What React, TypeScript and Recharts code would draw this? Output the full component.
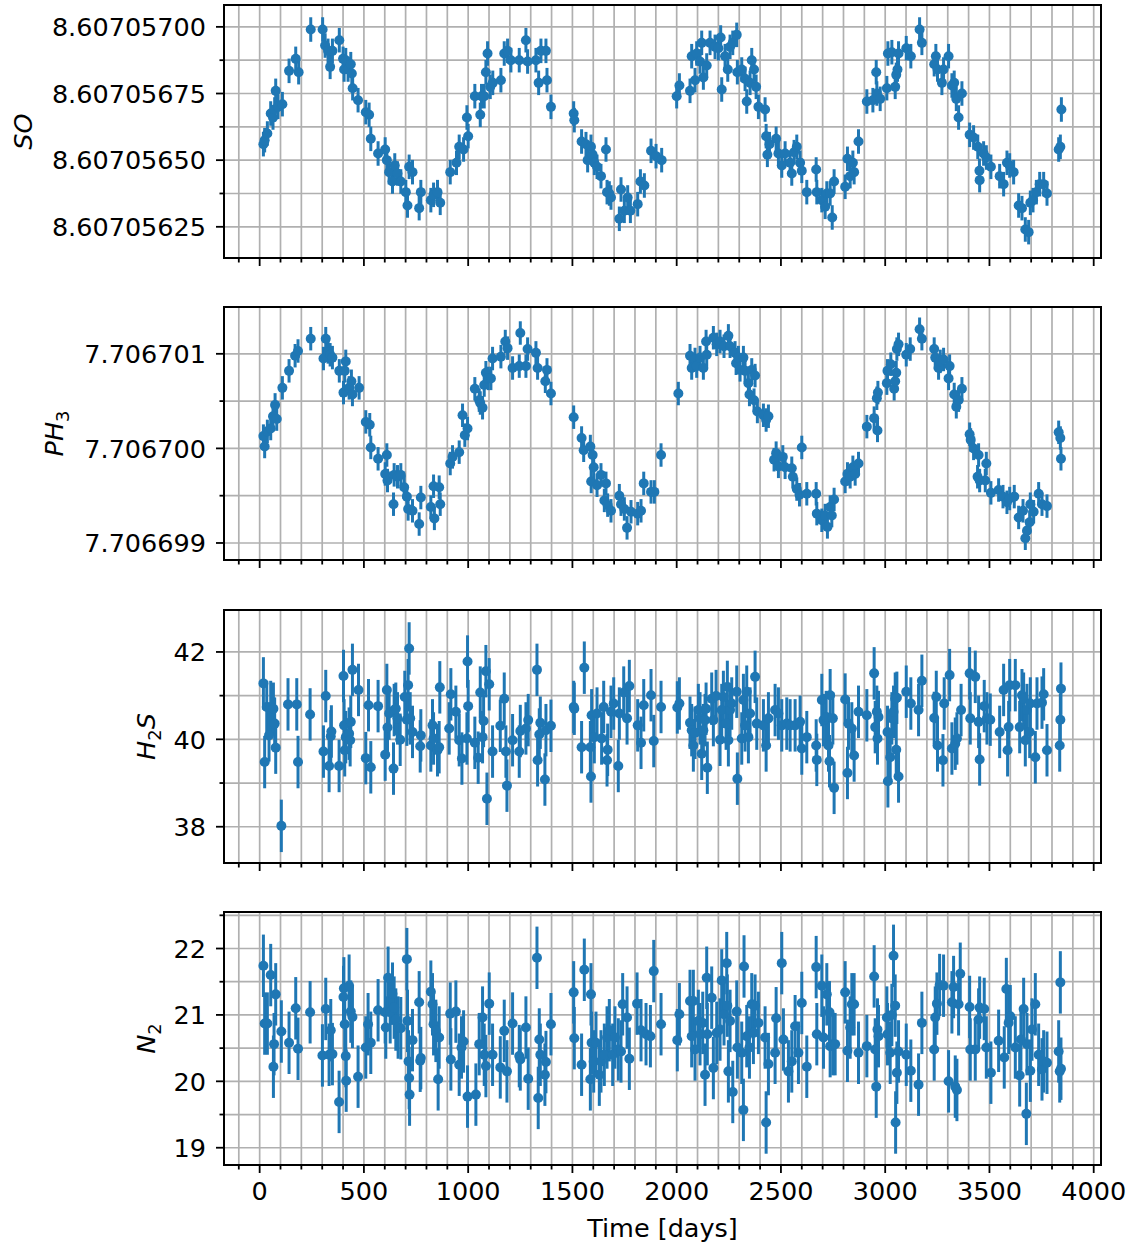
import React from "react";
import { ScatterChart, Scatter, XAxis, YAxis, CartesianGrid, ErrorBar, ReferenceArea } from "recharts";

const BLUE = "#1f77b4";
const FONT = "'DejaVu Sans', sans-serif";
const FS = 25.5;

// observation times [days] and values, read per panel
// SO values are in units of 1e-8 above 8.60705
const SO_T = [18,24,37,53,64,72,77,88,109,141,173,187,245,302,314,328,338,349,382,400,405,413,424,437,442,446,472,509,525,533,568,602,610,621,637,648,661,677,701,709,717,733,765,773,821,834,853,866,914,944,957,978,994,1000,1032,1058,1064,1077,1085,1093,1106,1118,1157,1173,1189,1205,1245,1277,1285,1325,1338,1349,1373,1378,1397,1506,1509,1544,1565,1573,1589,1597,1605,1618,1637,1661,1666,1677,1685,1725,1733,1749,1765,1778,1813,1826,1845,1877,1901,1928,
  2000,2013,2064,2072,2088,2096,2112,2120,2128,2144,2160,2184,2200,2211,2216,2232,2245,2256,2269,2288,2291,2312,2328,2336,2352,2360,2371,2381,2392,2424,2429,2435,2445,2477,2488,2504,2520,2544,2552,2563,2576,2592,2600,2624,2669,2672,2696,2712,2720,2736,2746,2755,2808,2819,2832,2845,2851,2872,2912,2941,2957,2960,2976,3008,3013,3032,3048,3053,3059,3064,3101,3123,3165,3176,3235,3243,3251,3272,3280,3304,3320,3331,3341,3352,3368,3405,3424,3444,3452,3453,3472,3485,3507,3549,3568,3584,3597,3616,3640,3656,3672,3688,3696,3709,3725,3741,3760,3776,3832,3840,3845];
const SO_V = [656,657.5,660,667.5,666,669,676,670,671,683.5,688,683,699,699,693,691,685,691,695,688,684,687.5,684,686,682.5,677,672.5,668,667,658,652.5,654,650,645.5,642,648,645,642,638,633,647.5,645.5,632,638,635,637,638,634,645.5,649,655,654,666,659,674,667,674,674,683,690,677.5,679,680,690,691,687.5,687.5,695,687,687.5,679,691,691,680,670,667.5,665,657,656,650,655,652,649,647.5,644,654,638,637.5,636,628,639,631,636,631,633.5,642,640.5,653.5,651.5,650,
  674,678,676,689,680,690,687,694,681,685.5,694,692.5,692,696,676.5,689,684,692.5,694,697,683,684,680.5,672,679,687.5,684,677.5,670,669,659,652,656,658,652.5,648,652.5,649,645,653,655,649,646,638,646.5,638,635,632.5,637.5,637.5,628.5,642,640,650.5,644,649,645.5,657,672,672.5,683,675,673,677,690,690.5,677.5,682,684,690,692,689,699,694,686,689,684,679,684,689,678,679,673,666,675,659.5,658.5,655,646,642.5,652.5,651,647.5,644,641,649,648,645.5,633,632,624,623,634,635,638,641,641,637.5,654,655,669];

// PH3 values are in units of 1e-8 relative to 7.7067
const PH3_T = [18,24,37,53,64,74,82,109,141,170,184,245,306,317,328,338,349,382,402,413,408,429,440,445,477,509,528,533,568,610,602,613,642,645,661,677,693,706,712,733,765,773,821,834,838,861,866,914,925,957,984,997,973,1032,1053,1058,1069,1077,1085,1096,1109,1117,1157,1178,1189,1213,1245,1250,1277,1285,1325,1333,1370,1378,1397,1506,1544,1554,1586,1597,1602,1590,1618,1637,1661,1653,1669,1685,1725,1733,1762,1749,1781,1813,1829,1842,1877,1893,1925,
  2008,2064,2072,2088,2096,2112,2128,2141,2144,2176,2192,2208,2227,2248,2256,2280,2285,2296,2304,2320,2328,2344,2349,2360,2371,2376,2387,2416,2429,2440,2467,2477,2488,2509,2520,2552,2557,2576,2589,2600,2624,2669,2672,2696,2712,2723,2736,2744,2755,2808,2819,2832,2845,2856,2872,2912,2947,2960,2963,2965,3008,3011,3027,3043,3048,3053,3056,3064,3101,3120,3165,3176,3235,3240,3256,3264,3280,3304,3309,3331,3341,3352,3368,3405,3410,3424,3448,3443,3453,3480,3485,3507,3544,3565,3584,3597,3619,3640,3661,3672,3680,3693,3696,3712,3736,3752,3776,3832,3840,3843];
const PH3_V = [13,2,18,21,34,46,31,64,82,98,103,116,95,116,102,99,96,82,59,92,82,64,71,57,64,28,25,1,-11,-7,-27,-34,-59,-28,-30,-28,-41,-51,-64,-66,-80,-52,-62,-40,-74,-41,-59,-16,-9,-4,14,21,35,63,51,48,43,67,80,74,74,95,97,113,106,85,87,122,87,105,101,85,71,83,58,33,11,-2,2,-7,-20,-35,-39,-28,-37,-55,-60,-66,-50,-59,-84,-64,-67,-69,-66,-37,-46,-46,-7,
  58,98,85,94,87,96,85,113,99,117,110,113,108,119,108,101,90,96,83,96,82,69,57,83,51,77,39,35,30,34,-12,-5,-19,-9,-20,-21,-30,-43,-49,1,-48,-48,-69,-76,-71,-83,-62,-71,-54,-35,-27,-30,-20,-27,-16,23,32,53,19,59,69,82,89,63,71,80,105,110,99,105,126,116,105,96,85,92,94,74,87,57,44,51,63,15,9,0,-7,-30,-34,-34,-16,-47,-44,-51,-57,-53,-51,-73,-66,-95,-87,-78,-59,-67,-48,-59,-61,17,11,-11];

const H2S_T = [18,24,34,45,53,66,72,77,104,136,178,184,242,306,317,333,341,344,381,402,405,408,413,429,434,437,445,474,509,522,533,568,602,610,613,621,642,645,653,661,674,696,706,712,717,722,733,770,773,821,829,834,853,861,864,909,917,941,957,970,997,1000,994,1032,1048,1058,1069,1074,1085,1090,1101,1117,1154,1173,1181,1186,1213,1245,1250,1277,1288,1330,1333,1341,1346,1368,1373,1397,1506,1509,1544,1557,1586,1589,1592,1605,1618,1640,1650,1666,1669,1685,1698,1720,1725,1746,1762,1773,1813,1829,1842,1877,1890,1925,
  2003,2013,2064,2072,2080,2088,2104,2112,2120,2128,2136,2141,2147,2168,2176,2189,2208,2216,2224,2237,2243,2248,2256,2264,2288,2291,2312,2320,2328,2336,2344,2352,2376,2384,2416,2429,2440,2472,2488,2504,2528,2544,2568,2592,2600,2624,2669,2672,2696,2704,2717,2728,2733,2736,2749,2755,2808,2819,2824,2840,2851,2872,2912,2947,2952,2960,2963,2968,3011,3013,3024,3032,3040,3048,3053,3056,3064,3101,3123,3160,3176,3235,3245,3251,3277,3283,3309,3320,3336,3344,3364,3405,3408,3432,3448,3453,3475,3488,3504,3549,3568,3587,3592,3597,3624,3645,3656,3664,3672,3680,3693,3696,3720,3728,3752,3760,3776,3837,3840,3843];
const H2S_V = [41.28,39.48,40.74,40.09,40.74,40.70,40.36,39.81,38.02,40.80,40.80,39.48,40.57,39.72,40.99,39.39,40.07,40.18,39.39,41.45,40.32,39.75,40.05,40.13,39.98,40.40,41.59,41.13,39.57,40.78,39.36,40.76,39.65,41.13,40.27,40.59,39.33,40.67,40.70,40.48,39.99,40.97,40.45,41.24,42.08,40.48,40.17,39.84,40.09,39.86,40.32,40.02,39.75,39.82,41.19,40.25,41.03,40.63,39.98,39.56,41.78,40.76,40.02,39.92,39.58,41.07,40.05,40.42,41.56,38.64,41.26,39.72,40.31,40.93,39.72,38.94,39.98,39.72,40.19,40.25,40.44,41.59,39.52,40.11,40.38,39.08,40.21,40.31,40.74,40.70,39.82,41.64,39.82,39.15,40.55,40.05,40.59,40.02,40.74,39.52,39.76,40.63,40.82,39.39,40.59,41.07,40.48,41.22,40.32,39.92,40.78,41.01,39.96,40.74,
  40.73,40.82,40.38,40.21,39.86,40.15,40.67,40.48,39.67,40.21,40.44,40.70,39.35,40.93,40.44,40.99,39.99,40.67,40.97,40.36,41.20,39.98,40.67,40.82,41.09,39.10,40.02,40.90,40.32,41.09,40.05,40.59,41.43,40.36,40.32,39.86,40.48,40.67,40.59,40.32,40.36,40.32,40.32,40.40,39.79,40.05,39.86,39.53,40.90,40.44,40.51,39.86,39.50,41.01,40.48,38.89,40.91,39.23,40.36,40.25,39.63,40.63,40.55,41.51,40.28,40.63,40.02,40.51,40.17,39.04,39.59,40.48,40.63,40.93,39.76,40.95,39.15,41.09,40.82,40.67,41.34,40.49,40.97,39.86,39.52,40.82,41.47,39.79,39.90,40.02,40.67,41.51,40.48,41.43,40.40,39.54,40.76,40.48,40.45,40.17,41.13,39.75,40.28,41.24,41.24,40.28,41.01,40.93,39.98,40.67,40.17,40.82,39.59,40.82,40.84,41.03,39.75,39.86,40.45,41.16];

const N2_T = [18,24,37,53,66,69,77,104,141,173,184,242,301,317,333,341,349,381,402,404,408,413,415,429,437,445,472,509,520,533,568,602,605,616,626,637,645,653,664,677,706,709,714,717,719,733,765,770,773,821,829,834,845,861,856,914,917,941,957,968,978,997,1037,1053,1069,1077,1085,1101,1117,1154,1173,1186,1213,1245,1250,1277,1288,1330,1336,1341,1346,1368,1373,1397,1506,1509,1544,1557,1586,1589,1592,1602,1613,1629,1637,1653,1666,1677,1693,1704,1720,1733,1741,1762,1773,1810,1829,1853,1874,1890,1925,
  2003,2013,2064,2072,2080,2088,2104,2112,2125,2136,2144,2147,2168,2176,2192,2208,2216,2227,2240,2243,2248,2256,2269,2288,2291,2312,2320,2323,2336,2349,2360,2368,2376,2392,2424,2429,2440,2472,2477,2504,2512,2536,2552,2568,2584,2600,2624,2669,2672,2696,2704,2720,2733,2736,2749,2760,2808,2819,2832,2840,2851,2872,2912,2947,2952,2957,2963,2968,3008,3011,3024,3032,3040,3048,3050,3056,3064,3101,3123,3160,3176,3235,3240,3248,3261,3280,3304,3320,3328,3336,3344,3360,3352,3405,3408,3432,3448,3453,3475,3485,3507,3544,3571,3581,3592,3600,3624,3645,3651,3664,3677,3680,3696,3704,3720,3736,3752,3760,3776,3832,3837,3840,3843];
const N2_V = [21.74,20.87,20.87,21.60,20.22,20.56,21.31,20.75,20.58,21.10,20.49,21.04,20.39,21.09,20.40,20.77,20.41,19.69,21.27,21.40,20.86,20.38,20.01,21.44,21.05,20.97,20.07,20.51,20.86,20.58,21.07,21.04,20.81,21.56,21.04,21.32,21.11,20.93,20.81,20.80,21.84,20.91,20.30,20.05,19.80,20.62,21.19,20.31,20.35,21.35,21.16,20.86,20.76,20.66,20.03,21.02,20.33,21.05,20.25,20.51,20.60,19.77,19.80,20.56,20.96,20.40,20.23,21.17,20.40,20.21,20.76,20.15,20.87,20.38,20.33,20.81,20.04,21.86,19.75,20.63,20.40,20.10,20.29,20.86,21.34,20.65,20.25,21.68,20.03,21.31,20.58,20.30,20.58,20.10,20.30,20.40,20.66,20.77,20.40,20.66,20.48,20.45,21.16,20.96,20.34,21.17,20.77,20.71,20.68,21.66,20.86,
  20.62,21.01,21.21,20.68,21.21,20.48,20.91,20.71,20.88,20.10,21.56,20.71,21.26,20.20,20.73,20.78,21.52,21.01,21.78,21.14,20.15,20.91,19.84,21.05,20.51,20.43,19.57,21.73,20.68,20.51,21.16,20.73,21.14,20.88,20.66,19.38,20.26,20.43,20.95,21.78,20.63,20.15,20.30,20.83,20.43,21.18,20.22,21.72,20.71,21.44,20.66,21.31,21.04,20.53,20.56,20.56,21.34,20.46,20.81,21.16,21.16,20.43,20.53,21.58,20.48,19.92,20.78,20.68,20.96,20.71,20.43,21.00,21.89,21.14,19.38,20.13,20.45,20.40,20.16,19.95,20.88,20.48,20.96,21.17,21.45,21.44,20.00,21.19,21.42,19.92,19.87,21.62,21.16,21.12,20.48,20.48,20.93,21.11,21.09,20.51,20.13,20.61,20.36,21.39,20.88,20.98,20.51,20.09,20.63,21.09,19.51,20.56,20.16,20.78,21.16,20.40,20.18,20.30,20.28,20.45,20.15,21.49,20.19];

// axis ticks
const X_DOMAIN = [-171, 4035];
const X_MAJOR = [0, 500, 1000, 1500, 2000, 2500, 3000, 3500, 4000];
const X_TICKS = Array.from({ length: 42 }, (_, i) => -100 + i * 100);

const SO_BASE = 8.60705;
const SO_TICKS_U = [625, 637.5, 650, 662.5, 675, 687.5, 700];
const SO_MAJOR_U = [625, 650, 675, 700];
const PH3_BASE = 7.7067;
const PH3_TICKS_U = [-100, -50, 0, 50, 100];
const PH3_MAJOR_U = [-100, 0, 100];
const H2S_TICKS = [38, 39, 40, 41, 42];
const H2S_MAJOR = [38, 40, 42];
const N2_TICKS = [19, 19.5, 20, 20.5, 21, 21.5, 22, 22.5];
const N2_MAJOR = [19, 20, 21, 22];

const PLOT_H = 253;
const PLOT_TOP = 5;

const zip = (t: number[], v: number[], f: (x: number) => number, e: number) => {
  const n = Math.min(t.length, v.length);
  const out = [];
  for (let i = 0; i < n; i++) out.push({ x: t[i], y: f(v[i]), e });
  return out;
};

const panels = [
  {
    top: 0,
    data: zip(SO_T, SO_V, (u) => SO_BASE + u * 1e-8, 4.6e-8),
    domain: [SO_BASE + 613.3e-8, SO_BASE + 708.2e-8],
    ticks: SO_TICKS_U.map((u) => SO_BASE + u * 1e-8),
    majors: SO_MAJOR_U.map((u) => SO_BASE + u * 1e-8),
    fmt: (v: number) => v.toFixed(8),
    title: [{ t: "SO" }],
    titleX: 32,
  },
  {
    top: 302,
    data: zip(PH3_T, PH3_V, (u) => PH3_BASE + u * 1e-8, 12.4e-8),
    domain: [PH3_BASE - 118e-8, PH3_BASE + 149.5e-8],
    ticks: PH3_TICKS_U.map((u) => PH3_BASE + u * 1e-8),
    majors: PH3_MAJOR_U.map((u) => PH3_BASE + u * 1e-8),
    fmt: (v: number) => v.toFixed(6),
    title: [{ t: "PH" }, { t: "3", sub: true }],
    titleX: 63,
  },
  {
    top: 605,
    data: zip(H2S_T, H2S_V, (u) => u, 0.6),
    domain: [37.17, 42.96],
    ticks: H2S_TICKS,
    majors: H2S_MAJOR,
    fmt: (v: number) => String(v),
    title: [{ t: "H" }, { t: "2", sub: true }, { t: "S" }],
    titleX: 155,
  },
  {
    top: 907,
    data: zip(N2_T, N2_V, (u) => u, 0.47),
    domain: [18.74, 22.55],
    ticks: N2_TICKS,
    majors: N2_MAJOR,
    fmt: (v: number) => String(v),
    title: [{ t: "N" }, { t: "2", sub: true }],
    titleX: 155,
  },
];

const isMajor = (list: number[], v: number) => list.some((m) => Math.abs(m - v) < 1e-10);

// eslint-disable-next-line @typescript-eslint/no-explicit-any
const YTick = ({ x, y, payload, majors, fmt }: any) => {
  const major = isMajor(majors, payload.value);
  return (
    <g>
      <line x1={x} x2={x - (major ? 8 : 4.5)} y1={y} y2={y} stroke="#000" strokeWidth={1.8} />
      {major && (
        <text x={x - 18} y={y} dy="0.36em" textAnchor="end" fontFamily={FONT} fontSize={FS} fill="#000">
          {fmt(payload.value)}
        </text>
      )}
    </g>
  );
};

// eslint-disable-next-line @typescript-eslint/no-explicit-any
const XTick = ({ x, y, payload, showLabel }: any) => {
  const major = X_MAJOR.includes(payload.value);
  return (
    <g>
      <line x1={x} x2={x} y1={y} y2={y + (major ? 8 : 4.5)} stroke="#000" strokeWidth={1.8} />
      {showLabel && major && (
        <text x={x} y={y + 35} textAnchor="middle" fontFamily={FONT} fontSize={FS} fill="#000">
          {payload.value}
        </text>
      )}
    </g>
  );
};

// x-axis title, fixed spot below the last panel's tick labels
const XTitle = () => (
  <text x={662.5} y={PLOT_TOP + PLOT_H + 72} textAnchor="middle" fontFamily={FONT} fontSize={FS} fill="#000">
    Time [days]
  </text>
);

// eslint-disable-next-line @typescript-eslint/no-explicit-any
const AxisTitle = ({ parts, cx }: any) => {
  const cy = PLOT_TOP + PLOT_H / 2;
  let shift = 0;
  return (
    <text x={cx} y={cy} transform={`rotate(-90 ${cx} ${cy})`} textAnchor="middle" fontFamily={FONT} fontSize={FS} fill="#000">
      {parts.map((p: { t: string; sub?: boolean }, i: number) => {
        const target = p.sub ? FS * 0.22 : 0;
        const dy = target - shift;
        shift = target;
        return (
          <tspan key={i} dy={dy} fontStyle={p.sub ? "normal" : "italic"} fontSize={p.sub ? FS * 0.7 : FS}>
            {p.t}
          </tspan>
        );
      })}
    </text>
  );
};

// eslint-disable-next-line @typescript-eslint/no-explicit-any
const Dot = (props: any) => <circle cx={props.cx} cy={props.cy} r={5} fill={BLUE} />;

export default function App() {
  return (
    <div style={{ position: "absolute", left: 0, top: 0, width: 1132, height: 1247, background: "#fff" }}>
      {panels.map((p, i) => {
        const last = i === panels.length - 1;
        const xh = last ? 82 : 10;
        return (
          <div key={i} style={{ position: "absolute", left: 0, top: p.top }}>
            <ScatterChart width={1132} height={PLOT_TOP + PLOT_H + xh} margin={{ top: PLOT_TOP, right: 31, bottom: 0, left: 0 }}>
              <CartesianGrid stroke="#b0b0b0" strokeWidth={1.7} />
              <XAxis
                type="number"
                dataKey="x"
                domain={X_DOMAIN}
                allowDataOverflow
                ticks={X_TICKS}
                interval={0}
                height={xh}
                tickSize={0}
                tickMargin={0}
                axisLine={false}
                tickLine={false}
                tick={(props: any) => <XTick {...props} showLabel={last} />}
                label={last ? <XTitle /> : undefined}
              />
              <YAxis
                type="number"
                dataKey="y"
                domain={p.domain}
                allowDataOverflow
                ticks={p.ticks}
                interval={0}
                width={224}
                tickSize={0}
                tickMargin={0}
                axisLine={false}
                tickLine={false}
                tick={(props: any) => <YTick {...props} majors={p.majors} fmt={p.fmt} />}
                label={<AxisTitle parts={p.title} cx={p.titleX} />}
              />
              <ReferenceArea
                x1={X_DOMAIN[0]}
                x2={X_DOMAIN[1]}
                y1={p.domain[0]}
                y2={p.domain[1]}
                fill="none"
                fillOpacity={0}
                stroke="#000"
                strokeWidth={2}
                ifOverflow="visible"
              />
              <Scatter data={p.data} fill={BLUE} shape={Dot} isAnimationActive={false}>
                <ErrorBar dataKey="e" direction="y" width={0} stroke={BLUE} strokeWidth={3} isAnimationActive={false} />
              </Scatter>
            </ScatterChart>
          </div>
        );
      })}
    </div>
  );
}
